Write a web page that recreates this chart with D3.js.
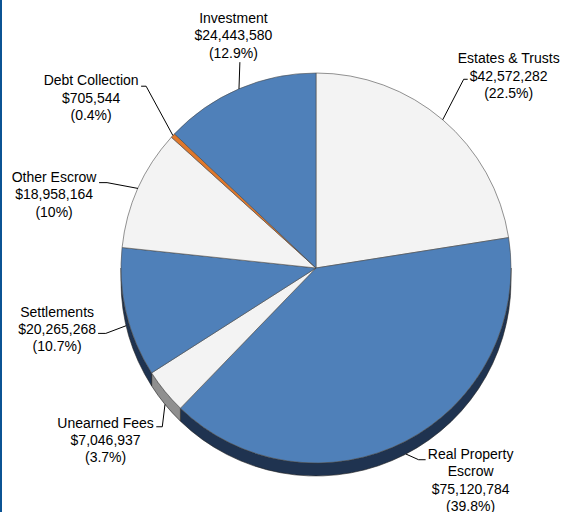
<!DOCTYPE html>
<html>
<head>
<meta charset="utf-8">
<script src="https://cdn.jsdelivr.net/npm/d3@7"></script>
<style>
  html, body { margin: 0; padding: 0; background: #fff; }
  svg text { font-family: "Liberation Sans", Arial, sans-serif; font-size: 14px; fill: #000; }
</style>
</head>
<body>
<div id="chart"></div>
<script>
// slices, clockwise from 12 o'clock
var categories = ["Estates & Trusts", "Real Property Escrow", "Unearned Fees", "Settlements",
                  "Other Escrow", "Debt Collection", "Investment"];
var amounts = [42572282, 75120784, 7046937, 20265268, 18958164, 705544, 24443580];
var percentLabels = ["22.5%", "39.8%", "3.7%", "10.7%", "10%", "0.4%", "12.9%"];

var topColors  = ["#f3f3f3", "#4f80b9", "#f3f3f3", "#4f80b9", "#f3f3f3", "#e0782c", "#4f80b9"];
var sideColors = ["#8f8f8f", "#1f3350", "#8f8f8f", "#1f3350", "#8f8f8f", "#7a3e12", "#1f3350"];

// leader line / label placement, offsets from the slice anchor point
var labelLayout = [
    { elbow: [21, -40.5],  end: [25, -40.5],  text: [41, -16] },
    { elbow: [12.7, 5.7],  end: [19.7, 5.7],  text: [45, -0.7], breakAt: 2 },
    { elbow: [-2.7, 22.4], end: [-8.7, 22.4], text: [-50.7, 1] },
    { elbow: [-20.4, 7.7], end: [-28.1, 7.7], text: [-41, -16.7] },
    { elbow: [-30.9, -5.8], end: [-38.9, -5.8], text: [-45, -0.5] },
    { elbow: [-26.8, -49.3], end: [-31.8, -49.3], text: [-50, -1] },
    { elbow: [0.9, -26.7], end: [0.9, -26.7], text: [-6.5, -39] }
];

var width = 561,
    height = 512;

var cx = 316,
    cy = 268,
    radius = 195,
    depth = 13,
    lineHeight = 17.3;

var svg = d3.select('#chart')
    .append('svg')
    .attr('width', width)
    .attr('height', height);

svg.append('rect')
    .attr('x', 0)
    .attr('y', 0)
    .attr('width', width)
    .attr('height', height)
    .attr('fill', '#fff');

// dark frame line on the left
svg.append('rect')
    .attr('x', 0)
    .attr('y', 0)
    .attr('width', 2)
    .attr('height', height)
    .attr('fill', '#0b5394');

var pie = d3.pie()
    .sort(null)
    .value(function (d) { return d; });

var arcs = pie(amounts);

var arc = d3.arc()
    .innerRadius(0)
    .outerRadius(radius);

var g = svg.append('g')
    .attr('transform', 'translate(' + cx + ',' + cy + ')');

// side walls, only the front half shows
function wallPath(d) {
    var s = Math.max(d.startAngle, Math.PI / 2),
        e = Math.min(d.endAngle, Math.PI * 3 / 2);
    if (s >= e) return null;
    var p = d3.path();
    p.moveTo(radius * Math.sin(s), -radius * Math.cos(s));
    p.arc(0, 0, radius, s - Math.PI / 2, e - Math.PI / 2, false);
    p.lineTo(radius * Math.sin(e), -radius * Math.cos(e) + depth);
    p.arc(0, depth, radius, e - Math.PI / 2, s - Math.PI / 2, true);
    p.closePath();
    return p.toString();
}

g.selectAll('path.wall')
    .data(arcs.filter(function (d) { return wallPath(d) !== null; }))
    .enter()
    .append('path')
    .attr('class', 'wall')
    .attr('d', wallPath)
    .attr('fill', function (d) { return sideColors[d.index]; })
    .attr('stroke', '#222')
    .attr('stroke-width', 0.6);

g.selectAll('path.top')
    .data(arcs)
    .enter()
    .append('path')
    .attr('class', 'top')
    .attr('d', arc)
    .attr('fill', function (d) { return topColors[d.index]; })
    .attr('stroke', '#4a4a4a')
    .attr('stroke-width', 0.6);

// labels
var money = d3.format('$,');

arcs.forEach(function (d, i) {
    var mid = (d.startAngle + d.endAngle) / 2,
        ax = radius * Math.sin(mid),
        ay = -radius * Math.cos(mid);
    if (Math.cos(mid) < 0) ay += depth;

    var lay = labelLayout[i];
    var pts = [[ax, ay],
               [ax + lay.elbow[0], ay + lay.elbow[1]],
               [ax + lay.end[0], ay + lay.end[1]]];

    g.append('path')
        .attr('d', d3.line()(pts))
        .attr('fill', 'none')
        .attr('stroke', '#000')
        .attr('stroke-width', 1);

    var name = categories[i],
        lines;
    if (lay.breakAt) {
        var words = name.split(' ');
        lines = [words.slice(0, lay.breakAt).join(' '), words.slice(lay.breakAt).join(' ')];
    } else {
        lines = [name];
    }
    lines.push(money(amounts[i]));
    lines.push('(' + percentLabels[i] + ')');

    var tx = pts[2][0] + lay.text[0],
        ty = pts[2][1] + lay.text[1];

    var text = g.append('text')
        .attr('text-anchor', 'middle');
    lines.forEach(function (l, k) {
        text.append('tspan')
            .attr('x', tx)
            .attr('y', ty + k * lineHeight)
            .text(l);
    });
});
</script>
</body>
</html>
